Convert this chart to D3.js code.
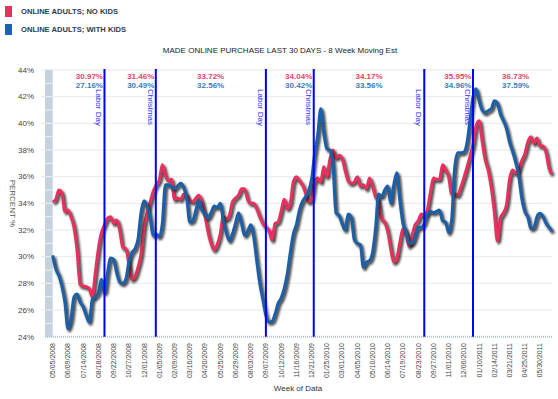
<!DOCTYPE html>
<html><head><meta charset="utf-8">
<script src="https://cdn.jsdelivr.net/npm/d3@7/dist/d3.min.js"></script>
<style>body{margin:0;background:#fff}svg{display:block;font-family:"Liberation Sans",Arial,sans-serif}</style>
</head><body><svg id="c" width="558" height="399"></svg>
<script>
const seriesNames = ["ONLINE ADULTS; NO KIDS", "ONLINE ADULTS; WITH KIDS"];
const firstWeek = "05/05/2008";
const noKids = [34.1,34.3,35.0,34.8,33.4,33.5,33.0,32.2,30.5,27.9,27.8,27.75,27.6,27.0,28.8,30.6,31.8,32.4,32.9,33.0,
32.5,32.75,32.0,30.7,30.6,29.5,28.3,28.5,29.2,30.2,32.3,33.3,34.1,34.9,35.4,35.75,36.9,36.1,35.7,35.8,
34.3,34.4,34.3,34.7,34.6,34.2,34.1,34.4,34.6,34.1,33.1,31.9,31.0,30.5,30.9,31.7,33.0,32.8,33.1,34.1,
34.4,34.6,35.1,35.1,34.3,34.0,34.0,33.6,33.0,32.5,32.2,32.0,31.25,32.5,32.6,33.4,34.3,33.6,34.0,35.6,
36.0,35.7,35.4,34.8,34.1,34.3,35.6,35.9,35.6,36.75,36.0,37.3,38.0,37.4,37.6,37.4,36.5,35.7,35.5,35.6,
36.0,35.3,35.4,35.1,35.9,35.3,34.5,34.1,32.8,32.6,31.9,30.6,29.6,29.9,31.1,32.1,31.8,30.8,31.6,32.4,
32.7,33.2,33.1,33.5,34.8,35.9,35.8,35.8,36.9,36.5,36.0,34.7,34.7,34.6,35.2,35.9,36.7,37.5,38.4,39.8,
40.2,38.7,37.3,36.5,35.2,33.4,31.2,32.9,33.3,33.9,35.8,36.5,36.25,36.5,37.2,37.7,38.6,39.0,38.5,38.9,
38.3,38.3,37.8,36.6,36.2];
const withKids = [30.1,29.1,28.6,27.8,26.6,24.6,25.3,27.0,27.2,26.6,26.25,25.6,25.1,26.8,27.0,27.3,28.3,27.3,28.8,29.9,
29.8,28.8,28.1,28.0,28.3,29.6,30.3,30.6,31.3,33.3,34.2,33.8,32.9,31.6,31.7,31.5,32.5,35.4,35.4,35.25,
35.1,35.3,35.5,35.2,34.4,32.6,32.7,33.5,34.2,33.5,33.2,32.9,33.3,33.8,33.7,34.0,32.75,31.8,31.2,31.7,
32.5,33.3,32.5,31.6,31.9,32.4,31.5,29.7,28.0,26.8,25.6,25.1,25.15,25.7,26.5,26.9,27.6,28.7,30.3,31.7,
32.4,33.5,34.15,34.5,34.9,35.8,37.7,39.1,41.1,39.3,38.1,38.0,37.0,33.3,33.1,32.5,32.0,33.2,33.0,31.3,
31.0,30.9,29.2,29.6,29.7,30.3,32.1,34.7,34.5,35.0,35.3,34.0,35.4,36.3,34.2,32.5,31.9,31.0,31.0,31.5,
32.2,32.2,32.5,33.2,33.4,33.3,33.4,33.5,32.7,32.6,31.8,32.8,36.7,37.8,37.8,37.85,38.5,40.2,42.0,42.6,
41.7,41.0,40.8,40.95,41.1,41.7,41.5,40.7,40.2,39.6,38.6,37.9,37.1,36.1,34.4,33.4,33.0,32.1,32.2,33.0,
33.25,33.0,32.5,32.2,31.9];
const xTickLabels = ["05/05/2008","06/09/2008","07/14/2008","08/18/2008","09/22/2008","10/27/2008","12/01/2008",
"01/05/2009","02/09/2009","03/16/2009","04/20/2009","05/25/2009","06/29/2009","08/03/2009","09/07/2009","10/12/2009",
"11/16/2009","12/21/2009","01/25/2010","03/01/2010","04/05/2010","05/10/2010","06/14/2010","07/19/2010","08/23/2010",
"09/27/2010","11/01/2010","12/06/2010","01/10/2011","02/14/2011","03/21/2011","04/25/2011","05/30/2011"];
const yTickValues = [24,26,28,30,32,34,36,38,40,42,44];
const eventDates = ["09/01/2008","12/28/2008","09/07/2009","12/26/2009","09/06/2010","12/27/2010"];
const eventLabels = ["Labor Day","Christmas","Labor Day","Christmas","Labor Day","Christmas"];
const annotDates = ["09/01/2008","12/28/2008","05/03/2009","12/26/2009","05/02/2010","12/27/2010","04/04/2011"];
const annotAnchor = ["end","end","middle","end","middle","end","middle"];
const annotNoKids = ["30.97%","31.46%","33.72%","34.04%","34.17%","35.95%","36.73%"];
const annotWithKids = ["27.16%","30.49%","32.56%","30.42%","33.56%","34.96%","37.59%"];

const RED = "#e8305c", BLUE = "#1b5fa8";
const parse = d3.utcParse("%m/%d/%Y");
const svg = d3.select("#c");
const t0 = parse(firstWeek);
const dates = noKids.map((d, i) => d3.utcDay.offset(t0, 7 * i));

const x = d3.scaleUtc().domain([parse("05/05/2008"), parse("05/30/2011")]).range([52.7, 540]);
const y = d3.scaleLinear().domain([24, 44]).range([336.7, 70]);
const left = 45, right = 552;

const defs = svg.append("defs");
defs.append("filter").attr("id", "blur").attr("x", "-5%").attr("y", "-5%").attr("width", "110%").attr("height", "110%")
  .append("feGaussianBlur").attr("stdDeviation", 1.1);

svg.append("g").selectAll("line").data(yTickValues.filter(v => v > 24)).join("line")
  .attr("x1", 41).attr("x2", right).attr("y1", d => y(d)).attr("y2", d => y(d))
  .attr("stroke", "#e6e9ee").attr("stroke-width", 1);

svg.append("rect").attr("x", left).attr("y", y(44)).attr("width", x(t0) - left).attr("height", y(24) - y(44))
  .attr("fill", "#c4d2e0");
svg.append("g").selectAll("line").data(d3.range(25, 44, 1)).join("line")
  .attr("x1", left).attr("x2", x(t0)).attr("y1", d => y(d)).attr("y2", d => y(d))
  .attr("stroke", "#eef2f6").attr("stroke-width", 1);

svg.append("line").attr("x1", left).attr("x2", right).attr("y1", y(24)).attr("y2", y(24))
  .attr("stroke", "#a9c0d8").attr("stroke-width", 2).attr("stroke-dasharray", "1,1");

svg.append("g").selectAll("text").data(yTickValues).join("text")
  .attr("x", 34).attr("y", d => y(d)).attr("dy", "0.35em").attr("text-anchor", "end")
  .attr("font-size", 8).attr("fill", "#444").text(d => d + "%");

svg.append("text").attr("transform", `translate(10,${(y(24) + y(44)) / 2}) rotate(90)`)
  .attr("text-anchor", "middle").attr("font-size", 8).attr("fill", "#555").text("PERCENT %");

svg.append("g").selectAll("text").data(xTickLabels).join("text")
  .attr("transform", d => `translate(${x(parse(d))},343) rotate(-90)`)
  .attr("dy", "0.35em").attr("text-anchor", "end").attr("font-size", 7).attr("fill", "#444").text(d => d);

svg.append("text").attr("x", 298).attr("y", 391).attr("text-anchor", "middle")
  .attr("font-size", 8).attr("fill", "#333").text("Week of Data");

svg.append("text").attr("x", 280).attr("y", 53).attr("text-anchor", "middle")
  .attr("font-size", 8).attr("fill", "#222").text("MADE ONLINE PURCHASE LAST 30 DAYS - 8 Week Moving Est");

[RED, "#1565c0"].forEach((c, i) => {
  svg.append("rect").attr("x", 5).attr("y", 6 + i * 18).attr("width", 7).attr("height", 11).attr("fill", c);
  svg.append("text").attr("x", 21).attr("y", 11.5 + i * 18).attr("dy", "0.35em").attr("font-size", 7.6)
    .attr("font-weight", "bold").attr("fill", "#2e3d4c").text(seriesNames[i]);
});

const line = d3.line().x((d, i) => x(dates[i])).y(d => y(d)).curve(d3.curveMonotoneX);
[[noKids, RED], [withKids, BLUE]].forEach(([vals, col]) => {
  svg.append("path").attr("d", line(vals)).attr("fill", "none").attr("stroke", "#1a1a1a")
    .attr("stroke-width", 3.6).attr("stroke-opacity", 0.8).attr("filter", "url(#blur)")
    .attr("transform", "translate(1.6,2)");
  svg.append("path").attr("d", line(vals)).attr("fill", "none").attr("stroke", col)
    .attr("stroke-width", 3).attr("stroke-linejoin", "round");
});

const ev = svg.append("g");
eventDates.forEach((d, i) => {
  const ex = x(parse(d));
  ev.append("line").attr("x1", ex).attr("x2", ex).attr("y1", 69).attr("y2", y(24))
    .attr("stroke", "#0000ff").attr("stroke-width", 2);
  ev.append("text").attr("transform", `translate(${ex - 8},89) rotate(90)`)
    .attr("font-size", 8).attr("fill", "#2a2aff").text(eventLabels[i]);
});

annotDates.forEach((d, i) => {
  const ax = x(parse(d)) - (annotAnchor[i] === "end" ? 1.5 : 0);
  svg.append("text").attr("x", ax).attr("y", 79).attr("text-anchor", annotAnchor[i])
    .attr("font-size", 8).attr("font-weight", "bold").attr("fill", "#e8416a").text(annotNoKids[i]);
  svg.append("text").attr("x", ax).attr("y", 88).attr("text-anchor", annotAnchor[i])
    .attr("font-size", 8).attr("font-weight", "bold").attr("fill", "#3b7bbd").text(annotWithKids[i]);
});
</script></body></html>
